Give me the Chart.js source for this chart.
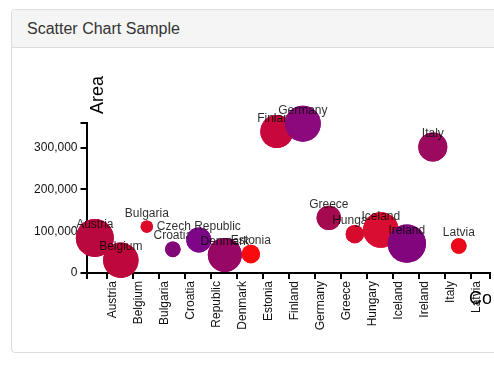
<!DOCTYPE html>
<html>
<head>
<meta charset="utf-8">
<script src="https://cdn.jsdelivr.net/npm/chart.js@4"></script>
<style>
  html, body { margin: 0; padding: 0; background: #fff; overflow: hidden; width: 494px; height: 366px; }
  .panel {
    position: absolute; left: 11px; top: 9px; width: 600px; height: 342px;
    border: 1px solid #ddd; border-radius: 4px; background: #fff;
  }
  .panel-heading {
    height: 37px; padding-left: 15px;
    background: #f5f5f5; border-bottom: 1px solid #ddd;
    border-radius: 3px 3px 0 0;
    font: 16px "Liberation Sans", Arial, sans-serif; line-height: 38px; color: #333;
  }
  #chart { position: absolute; left: 0; top: 0; }
</style>
</head>
<body>
<div class="panel"><div class="panel-heading">Scatter Chart Sample</div></div>
<canvas id="chart" width="491" height="366"></canvas>
<script>
// countries (x categories)
const countries = ['Austria', 'Belgium', 'Bulgaria', 'Croatia', 'Czech Republic', 'Denmark', 'Estonia',
  'Finland', 'Germany', 'Greece', 'Hungary', 'Iceland', 'Ireland', 'Italy', 'Latvia'];
// area in km2 (y)
const areas = [83879, 30528, 110994, 56594, 78866, 43094, 45339,
  338424, 357168, 131957, 93030, 103000, 70273, 301340, 64589];
// bubble radius
const radii = [19, 17.7, 6.2, 7.8, 12.5, 17, 9.2, 16.5, 18, 12.2, 9.2, 17.8, 19.2, 14.5, 7.8];
const colors = ['#b8083f', '#be083c', '#dc0a28', '#820878', '#7d0587', '#960864', '#fa0a0f',
  '#c8083c', '#8c087d', '#a50a50', '#d70a2d', '#d90c32', '#82057d', '#9b0a5f', '#eb0a19'];
const yTicks = [0, 100000, 200000, 300000];

const FONT = "'Liberation Sans', Arial, sans-serif";
const X_MIN = -0.32, X_MAX = 15.2, Y_MAX = 360000;

const points = countries.map(function (c, i) {
  return { x: i, y: areas[i], r: radii[i] };
});

// draw bubble + its label one by one, so later bubbles cover earlier labels
const labelPlugin = {
  id: 'labels',
  afterDatasetsDraw: function (chart) {
    const ctx = chart.ctx;
    const meta = chart.getDatasetMeta(0);
    ctx.save();
    ctx.font = '12px ' + FONT;
    ctx.textAlign = 'center';
    ctx.textBaseline = 'alphabetic';
    for (let i = 0; i < meta.data.length; i++) {
      const el = meta.data[i];
      el.draw(ctx);
      ctx.fillStyle = 'rgba(0,0,0,0.82)';
      ctx.fillText(countries[i], el.x, el.y - 10);
    }
    ctx.restore();
  },
  afterDraw: function (chart) {
    const ctx = chart.ctx;
    const a = chart.chartArea;
    ctx.save();
    ctx.fillStyle = '#000';
    ctx.font = '18px ' + FONT;
    ctx.textBaseline = 'middle';
    ctx.translate(a.left + 12, 95);
    ctx.rotate(-Math.PI / 2);
    ctx.textAlign = 'center';
    ctx.fillText('Area', 0, 0);
    ctx.restore();
    ctx.save();
    ctx.fillStyle = '#000';
    ctx.font = '18px ' + FONT;
    ctx.textBaseline = 'middle';
    ctx.textAlign = 'left';
    ctx.fillText('Country', 469, 299);
    ctx.restore();
  }
};

new Chart(document.getElementById('chart'), {
  type: 'bubble',
  data: {
    datasets: [{
      data: points,
      backgroundColor: colors,
      borderWidth: 0,
      clip: false
    }]
  },
  options: {
    responsive: false,
    animation: false,
    devicePixelRatio: 1,
    events: [],
    layout: { autoPadding: false, padding: { left: 26.5, right: 1, top: 122.5, bottom: 35 } },
    plugins: { legend: { display: false }, tooltip: { enabled: false } },
    scales: {
      x: {
        type: 'linear',
        min: X_MIN,
        max: X_MAX,
        afterFit: function (s) { s.height = 58; s.paddingLeft = 0; s.paddingRight = 0; },
        afterBuildTicks: function (s) {
          const t = [{ value: X_MIN }];
          countries.forEach(function (c, i) { t.push({ value: i + 0.45 }); });
          t.push({ value: X_MAX });
          s.ticks = t;
        },
        ticks: {
          autoSkip: false,
          minRotation: 90,
          maxRotation: 90,
          padding: 2,
          labelOffset: 6,
          color: '#111',
          font: { size: 12, family: FONT },
          callback: function (v, i, t) {
            if (i === 0 || i === t.length - 1) return '';
            return countries[i - 1];
          }
        },
        grid: { drawOnChartArea: false, drawTicks: true, tickLength: 6, color: '#000', lineWidth: 2 },
        border: { display: true, color: '#000', width: 2 }
      },
      y: {
        min: 0,
        max: Y_MAX,
        afterFit: function (s) { s.width = 60; s.paddingTop = 0; s.paddingBottom = 0; },
        afterBuildTicks: function (s) {
          s.ticks = yTicks.concat([Y_MAX]).map(function (v) { return { value: v }; });
        },
        ticks: {
          padding: 3,
          color: '#111',
          font: { size: 12, family: FONT },
          callback: function (v) {
            if (v === Y_MAX) return '';
            return v.toLocaleString('en-US');
          }
        },
        grid: { drawOnChartArea: false, drawTicks: true, tickLength: 6, color: '#000', lineWidth: 2 },
        border: { display: true, color: '#000', width: 2 }
      }
    }
  },
  plugins: [labelPlugin]
});
</script>
</body>
</html>
